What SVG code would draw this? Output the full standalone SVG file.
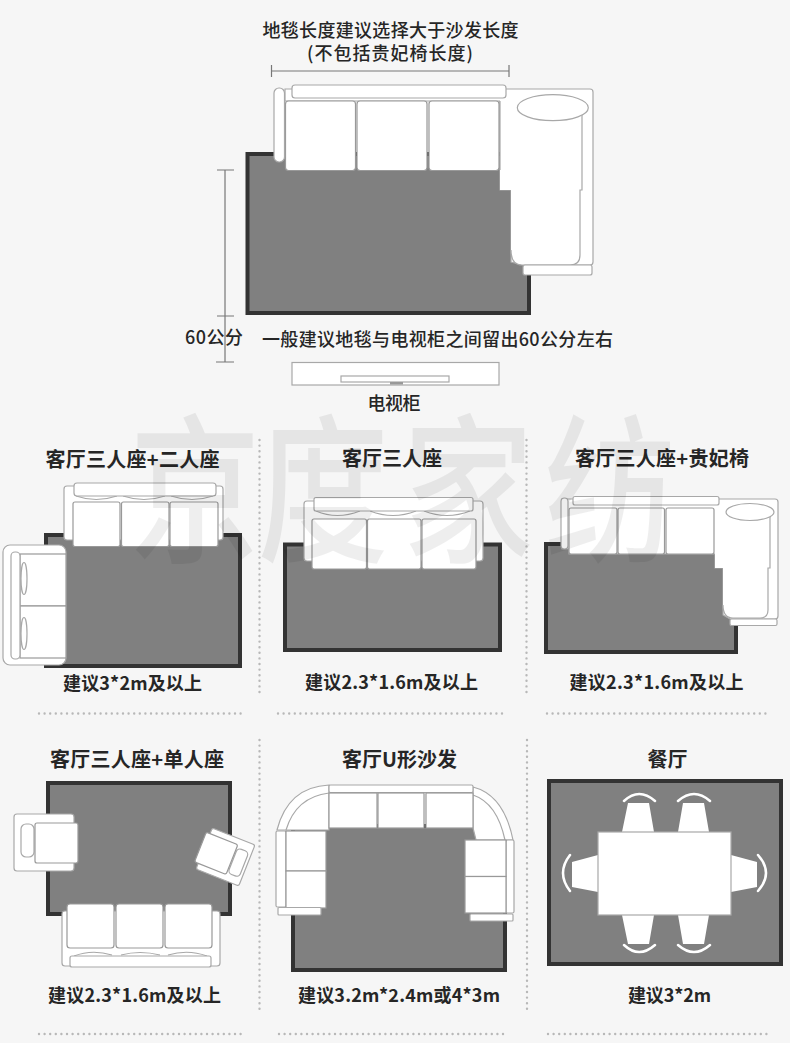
<svg xmlns="http://www.w3.org/2000/svg" width="790" height="1043" viewBox="0 0 790 1043">
<style>
text{font-family:"Noto Sans CJK SC","Liberation Sans",sans-serif;fill:#262626;text-anchor:middle}
.t{font-size:20px;font-weight:700}
.s{font-size:18px;font-weight:700}
.m{font-size:18px;font-weight:500}
.rug{fill:#808080;stroke:#333;stroke-width:4}
.w{fill:#fff;stroke:#a8a8a8;stroke-width:1.2}
.c{fill:#fff;stroke:#999;stroke-width:1.2}
.n{fill:#fff}
.a{fill:none;stroke:#a8a8a8;stroke-width:1.2}
.arc{fill:none;stroke:#fff;stroke-width:2.5;stroke-linecap:round}
.dim{fill:none;stroke:#777;stroke-width:1.2}
.dot{fill:none;stroke:#b8b8b8;stroke-width:2.4;stroke-dasharray:0 5.6;stroke-linecap:round}
.wm{font-size:160px;font-weight:500;fill:#000;fill-opacity:.065;text-anchor:start}
</style>
<rect width="790" height="1043" fill="#f6f6f6"/>

<g id="dividers">
<path class="dot" d="M39 713.500H243M278 713.500H504M547 713.500H767M39 1034H243M279 1034H507M548 1034H767"/>
<path class="dot" d="M259.500 440V695M526.500 440V695M259.500 740V1013M527 740V1013"/>
</g>

<g id="connectors">
<path class="dim" d="M271.500 65V77M271.500 71H509M509 65V77"/>
<path class="dim" d="M217 170H234M225 170V362M217 316H234M216 362H234"/>
</g>

<g id="main-layout">
<rect class="rug" x="247.500" y="154" width="281.500" height="159"/>
<path class="w" d="M285 89H590Q593 89 593 92V262Q593 265 590 265H523L511 262V190H500V101H285Z"/>
<path class="n" d="M500 100H582V190H580V255Q580 265 570 265H522Q511 265 511 250V190H500Z"/>
<path class="a" d="M582 110V190H580V255Q580 265 570 265H522Q511 265 511 250"/>
<path class="a" d="M500 101V170"/>
<ellipse class="w" cx="552.800" cy="107.700" rx="35.500" ry="13"/>
<rect class="w" x="523" y="265" width="69" height="10" rx="2"/>
<rect class="c" x="285.500" y="101" width="70" height="69.500" rx="3"/>
<rect class="c" x="357" y="101" width="70" height="69.500" rx="3"/>
<rect class="c" x="429" y="101" width="70" height="69.500" rx="3"/>
<rect class="w" x="274" y="88" width="10.500" height="74" rx="5"/>
<rect class="w" x="292" y="85" width="214" height="13" rx="3"/>
</g>

<g id="tv-cabinet">
<rect class="w" x="292" y="362.500" width="207" height="22.500" stroke="#777"/>
<rect class="w" x="341" y="376" width="108" height="6"/>
<rect x="390" y="382" width="13" height="2.500" fill="#999"/>
</g>

<g id="main-labels">
<text class="m" x="390.500" y="37" textLength="256">地毯长度建议选择大于沙发长度</text>
<text class="m" x="390" y="60" textLength="166">(不包括贵妃椅长度)</text>
<text class="m" x="214" y="344" textLength="58">60公分</text>
<text class="m" x="437.500" y="346" textLength="351">一般建议地毯与电视柜之间留出60公分左右</text>
<text class="m" x="394" y="410" textLength="53">电视柜</text>
</g>

<g id="p1">
<rect class="rug" x="46" y="535" width="194" height="131"/>
<rect class="w" x="64" y="486" width="159" height="54" rx="3"/>
<path class="a" d="M76 496Q96 503 117 496M123 496Q144 503 165 496M171 496Q192 503 213 496"/>
<rect class="c" x="73" y="502" width="47" height="44.500" rx="2"/>
<rect class="c" x="121.500" y="502" width="47.500" height="44.500" rx="2"/>
<rect class="c" x="170" y="502" width="48" height="44.500" rx="2"/>
<rect class="w" x="74" y="483" width="142" height="13" rx="3"/>
<rect class="w" x="3" y="545" width="63" height="120" rx="7"/>
<rect class="c" x="20" y="554" width="46" height="52"/>
<rect class="c" x="20" y="606" width="46" height="52"/>
<rect class="w" x="11" y="552" width="9" height="107" rx="4"/>
<ellipse class="w" cx="24" cy="578.500" rx="3" ry="16"/>
<ellipse class="w" cx="24" cy="633.500" rx="3" ry="16"/>
<text class="t" x="132.500" y="467" textLength="174">客厅三人座+二人座</text>
<text class="s" x="132.500" y="690" textLength="139">建议3*2m及以上</text>
</g>

<g id="p2">
<rect class="rug" x="285" y="544.500" width="215" height="105.500"/>
<rect class="w" x="304" y="501" width="179" height="60" rx="3"/>
<path class="a" d="M316 511Q337 520 360 511M370 511Q393 520 416 511M424 511Q447 520 470 511"/>
<rect class="c" x="312" y="519" width="54.500" height="50" rx="2"/>
<rect class="c" x="367.500" y="519" width="53.500" height="50" rx="2"/>
<rect class="c" x="422" y="519" width="54" height="50" rx="2"/>
<rect class="w" x="314" y="497.500" width="159" height="13.500" rx="2"/>
<text class="t" x="392" y="466" textLength="100">客厅三人座</text>
<text class="s" x="391.500" y="689" textLength="173">建议2.3*1.6m及以上</text>
</g>

<g id="p3">
<rect class="rug" x="546" y="544" width="190" height="108"/>
<path class="w" d="M562 499H775Q778 499 778 502V616Q778 619 775 619H730L723 615V568H715V554H569V549H562Z"/>
<path class="n" d="M715 508H770V568H768V610Q768 618 760 618H733Q723 618 723 605V568H715Z"/>
<path class="a" d="M770 515V568H768V610Q768 618 760 618H733Q723 618 723 605"/>
<ellipse class="w" cx="750" cy="512" rx="24" ry="8.500"/>
<rect class="w" x="730" y="619" width="47" height="6.500" rx="1.500"/>
<rect class="c" x="569" y="508" width="48" height="46" rx="2"/>
<rect class="c" x="618" y="508" width="46.500" height="46" rx="2"/>
<rect class="c" x="666" y="508" width="48" height="46" rx="2"/>
<rect class="w" x="561" y="498" width="7" height="51" rx="3.500"/>
<rect class="w" x="573" y="496.500" width="146" height="8.500" rx="2"/>
<text class="t" x="662" y="466" textLength="174">客厅三人座+贵妃椅</text>
<text class="s" x="656.500" y="689" textLength="174">建议2.3*1.6m及以上</text>
</g>

<g id="p4">
<rect class="rug" x="48" y="783" width="182" height="131"/>
<rect class="w" x="14" y="814" width="60" height="57" rx="3"/>
<rect class="w" x="21" y="824" width="13" height="33" rx="5"/>
<rect class="c" x="35" y="823" width="43" height="40" rx="2"/>
<g transform="translate(225.500 857) rotate(21.600)">
<rect class="w" x="-23" y="-22" width="46" height="44" rx="2"/>
<rect class="w" x="8" y="-13" width="12" height="27" rx="4"/>
<rect class="c" x="-27" y="-16" width="34" height="32" rx="2"/>
</g>
<rect class="w" x="62" y="911" width="158" height="55" rx="3"/>
<path class="a" d="M74 956Q92 949 112 955M121 955Q140 950 160 955M168 955Q188 949 207 956"/>
<rect class="c" x="67" y="904" width="47" height="44" rx="3"/>
<rect class="c" x="116" y="904" width="47" height="44" rx="3"/>
<rect class="c" x="165" y="904" width="47" height="44" rx="3"/>
<rect class="w" x="70" y="956" width="141" height="11" rx="2"/>
<text class="t" x="137" y="767" textLength="174">客厅三人座+单人座</text>
<text class="s" x="134.500" y="1002" textLength="173">建议2.3*1.6m及以上</text>
</g>

<g id="p5">
<rect class="rug" x="293" y="826" width="212" height="144"/>
<path class="w" d="M329 785Q288 787 277 830H329ZM473 787Q504 795 513 840H476L473 828Z"/>
<path class="a" d="M329 793Q296 797 286 830M473 795Q497 803 505 840"/>
<rect class="w" x="329" y="785" width="144" height="7.500" rx="1.500"/>
<rect class="c" x="329" y="793" width="48" height="35"/>
<rect class="c" x="378" y="793" width="46" height="35"/>
<rect class="c" x="426" y="793" width="47" height="35"/>
<rect class="w" x="276" y="831" width="10" height="76" rx="1.500"/>
<rect class="c" x="286" y="831" width="40" height="40"/>
<rect class="c" x="286" y="871" width="40" height="37"/>
<rect class="w" x="278" y="907.500" width="43" height="7.500" rx="1"/>
<rect class="w" x="506" y="840" width="8" height="73" rx="1.500"/>
<rect class="c" x="465" y="840" width="41" height="36.500"/>
<rect class="c" x="465" y="876.500" width="41" height="36.500"/>
<rect class="w" x="470" y="914" width="43" height="7" rx="1"/>
<text class="t" x="399.500" y="767" textLength="115">客厅U形沙发</text>
<text class="s" x="399" y="1002" textLength="202">建议3.2m*2.4m或4*3m</text>
</g>

<g id="p6">
<rect class="rug" x="549" y="781" width="232" height="183"/>
<path class="n" d="M622 832L628 803H649L654 832ZM678 832L683 803H704L709 832ZM622 915L628 944H649L654 915ZM678 915L683 944H704L709 915ZM598 855L572 862V887L598 892ZM731 855L757 862V887L731 892Z"/>
<rect class="w" x="598" y="832" width="133" height="83"/>
<path class="arc" d="M624 801Q639 787 655 801M678 801Q694 787 710 801M624 945Q639 959 655 945M678 945Q694 959 710 945M570 855Q556 873 570 891M758 855Q774 873 758 891"/>
<text class="t" x="667.500" y="767" textLength="40">餐厅</text>
<text class="s" x="669.500" y="1002" textLength="83">建议3*2m</text>
</g>

<g id="watermark">
<text class="wm" transform="translate(0 550) scale(.82 1)" x="158 314 491 664" y="0">京度家纺</text>
</g>
</svg>
